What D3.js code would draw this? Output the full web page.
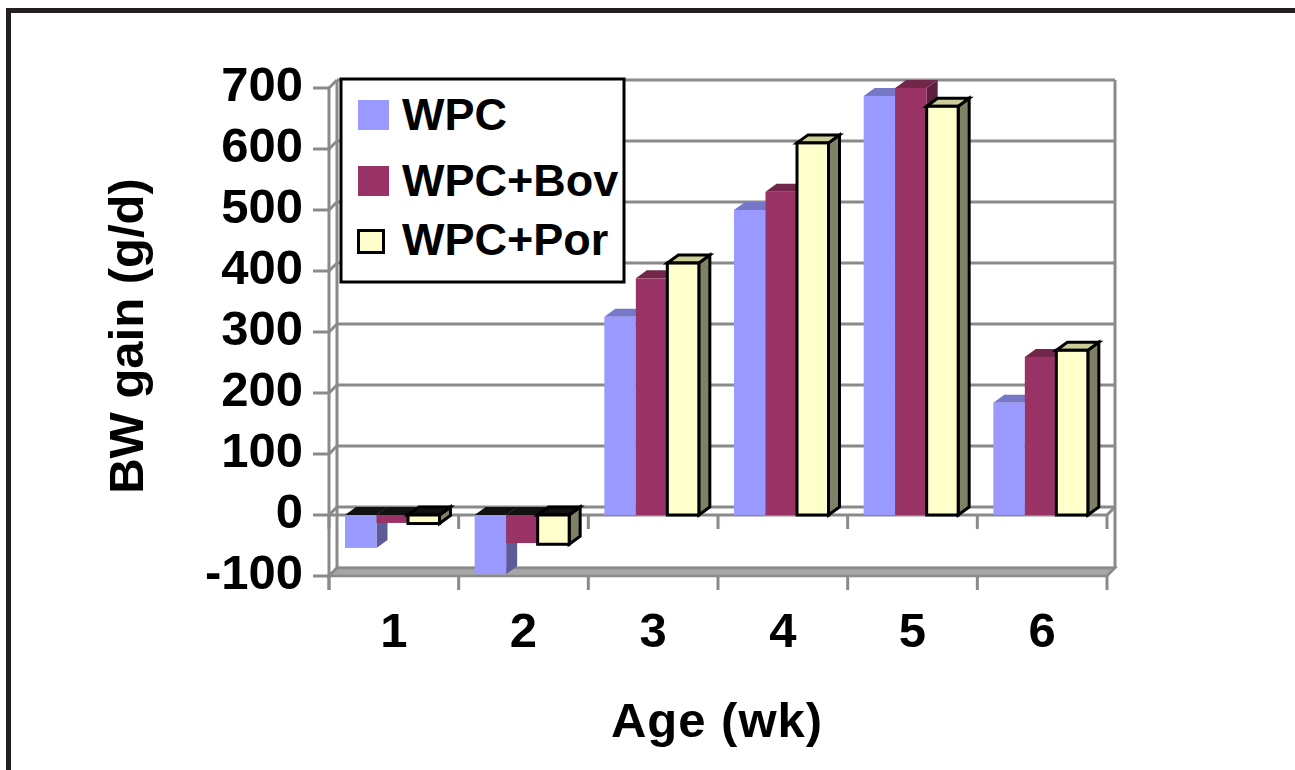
<!DOCTYPE html>
<html>
<head>
<meta charset="utf-8">
<script src="https://cdn.jsdelivr.net/npm/d3@7"></script>
<style>
  html, body { margin: 0; padding: 0; background: #ffffff; }
  svg { display: block; }
  text { font-family: "Liberation Sans", Arial, sans-serif; font-weight: bold; fill: #000; }
</style>
</head>
<body>
<svg id="chart" width="1295" height="770"></svg>
<script>
// Body-weight gain per week for the three diets
const weeks = ["1", "2", "3", "4", "5", "6"];
const seriesNames = ["WPC", "WPC+Bov", "WPC+Por"];
const wpc    = [-54, -97, 325, 500, 687, 184];
const wpcBov = [-13, -46, 388, 530, 700, 259];
const wpcPor = [-14, -48, 413, 610, 670, 270];
const yTicks = [-100, 0, 100, 200, 300, 400, 500, 600, 700];

const seriesValues = [wpc, wpcBov, wpcPor];
const faceColors = [
  { front: "#9999ff", side: "#5c5c99", top: "#7777c8", stroke: "none" },
  { front: "#993366", side: "#5c1f3d", top: "#722649", stroke: "none" },
  { front: "#ffffcc", side: "#808066", top: "#cccc99", stroke: "#000" }
];

const svg = d3.select("#chart");
const grid = "#8a8a8a";

// 3D projection offsets
const wallDx = 8, wallDy = -8;   // depth of the back wall
const barDx = 11, barDy = -8;    // depth of each column

const y = d3.scaleLinear().domain([-100, 700]).range([576, 88]);
const x = d3.scaleBand().domain(weeks).range([329, 1107]).padding(0);
const xs = d3.scaleBand().domain(seriesNames).range([16, 110.5]).padding(0);

const left = x.range()[0], right = x.range()[1];

// outer frame (top and left rules)
svg.append("rect").attr("x", 6).attr("y", 8).attr("width", 1289).attr("height", 5).attr("fill", "#231f20");
svg.append("rect").attr("x", 6).attr("y", 8).attr("width", 5).attr("height", 762).attr("fill", "#231f20");

const walls = svg.append("g").attr("stroke", grid).attr("stroke-width", 3).attr("fill", "none");

// back-wall gridlines
walls.selectAll("line.grid").data(yTicks).join("line")
  .attr("class", "grid")
  .attr("x1", left + wallDx).attr("x2", right + wallDx)
  .attr("y1", d => y(d) + wallDy).attr("y2", d => y(d) + wallDy);

// side-wall diagonals
walls.selectAll("line.side").data(yTicks).join("line")
  .attr("class", "side")
  .attr("x1", left).attr("x2", left + wallDx)
  .attr("y1", d => y(d)).attr("y2", d => y(d) + wallDy);

// wall edges
walls.append("line").attr("x1", left + wallDx).attr("x2", left + wallDx)
  .attr("y1", y(700) + wallDy).attr("y2", y(-100) + wallDy);
walls.append("line").attr("x1", right + wallDx).attr("x2", right + wallDx)
  .attr("y1", y(700) + wallDy).attr("y2", y(-100) + wallDy);

// floor at the axis minimum
svg.append("path")
  .attr("d", `M${left},${y(-100)} L${left + wallDx},${y(-100) + wallDy} L${right + wallDx},${y(-100) + wallDy} L${right},${y(-100)} Z`)
  .attr("fill", "#a6a6a6").attr("stroke", grid).attr("stroke-width", 2.5);

// value axis
walls.append("line").attr("x1", left).attr("x2", left).attr("y1", y(700)).attr("y2", y(-100) + 14);
walls.selectAll("line.ytick").data(yTicks).join("line")
  .attr("class", "ytick")
  .attr("x1", left - 16).attr("x2", left)
  .attr("y1", d => y(d)).attr("y2", d => y(d));

// category axis at zero, with its ticks
walls.append("path")
  .attr("d", `M${left},${y(0)} L${right},${y(0)} L${right + wallDx},${y(0) + wallDy}`);
const bounds = weeks.map(w => x(w)).concat([right]);
walls.selectAll("line.zt").data(bounds).join("line")
  .attr("class", "zt")
  .attr("x1", d => d).attr("x2", d => d)
  .attr("y1", y(0)).attr("y2", y(0) + 14);
// ticks along the floor edge
walls.selectAll("line.ft").data(bounds).join("line")
  .attr("class", "ft")
  .attr("x1", d => d).attr("x2", d => d)
  .attr("y1", y(-100)).attr("y2", y(-100) + 14);

// columns, drawn left to right so later faces overlap earlier ones
const bars = [];
weeks.forEach((w, i) => {
  seriesNames.forEach((s, j) => {
    bars.push({ w, s, j, v: seriesValues[j][i] });
  });
});

const barG = svg.append("g");
bars.forEach(b => {
  const c = faceColors[b.j];
  const x0 = x(b.w) + xs(b.s);
  const x1 = x0 + xs.bandwidth();
  const yv = y(b.v), y0 = y(0);
  const yTop = Math.min(yv, y0), yBot = Math.max(yv, y0);
  const g = barG.append("g")
    .attr("stroke", c.stroke)
    .attr("stroke-width", c.stroke === "none" ? 0 : 3)
    .attr("stroke-linejoin", "miter");
  // side face
  g.append("path")
    .attr("d", `M${x1},${yTop} L${x1 + barDx},${yTop + barDy} L${x1 + barDx},${yBot + barDy} L${x1},${yBot} Z`)
    .attr("fill", c.side);
  // top face (a negative column shows its dark cap at zero)
  g.append("path")
    .attr("d", `M${x0},${yTop} L${x0 + barDx},${yTop + barDy} L${x1 + barDx},${yTop + barDy} L${x1},${yTop} Z`)
    .attr("fill", b.v < 0 ? "#111" : c.top);
  // front face
  g.append("rect")
    .attr("x", x0).attr("y", yTop)
    .attr("width", x1 - x0).attr("height", Math.max(yBot - yTop, 0.5))
    .attr("fill", c.front);
});

// value-axis labels
svg.append("g").selectAll("text").data(yTicks).join("text")
  .attr("x", 303).attr("y", d => y(d) + 12.5)
  .attr("text-anchor", "end")
  .attr("font-size", 49)
  .text(d => d);

// category labels
svg.append("g").selectAll("text").data(weeks).join("text")
  .attr("x", d => x(d) + x.bandwidth() / 2).attr("y", 647)
  .attr("text-anchor", "middle")
  .attr("font-size", 49)
  .text(d => d);

// axis titles
svg.append("text")
  .attr("transform", "translate(143,336) rotate(-90)")
  .attr("text-anchor", "middle")
  .attr("font-size", 49)
  .text("BW gain (g/d)");
svg.append("text")
  .attr("x", 717).attr("y", 737)
  .attr("text-anchor", "middle")
  .attr("font-size", 49)
  .attr("letter-spacing", 1)
  .text("Age (wk)");

// legend
const legend = svg.append("g");
legend.append("rect")
  .attr("x", 341).attr("y", 79).attr("width", 283).attr("height", 203)
  .attr("fill", "#fff").attr("stroke", "#000").attr("stroke-width", 3);
const legendRows = [100, 166, 229];
seriesNames.forEach((s, j) => {
  const c = faceColors[j];
  if (c.stroke === "none") {
    legend.append("rect").attr("x", 358).attr("y", legendRows[j]).attr("width", 31).attr("height", 30)
      .attr("fill", c.front);
  } else {
    legend.append("rect").attr("x", 358.5).attr("y", legendRows[j] + 1.5).attr("width", 25).attr("height", 22)
      .attr("fill", c.front).attr("stroke", c.stroke).attr("stroke-width", 3);
  }
  legend.append("text")
    .attr("x", 402).attr("y", [130, 196, 255][j])
    .attr("font-size", 45)
    .text(s);
});
</script>
</body>
</html>
